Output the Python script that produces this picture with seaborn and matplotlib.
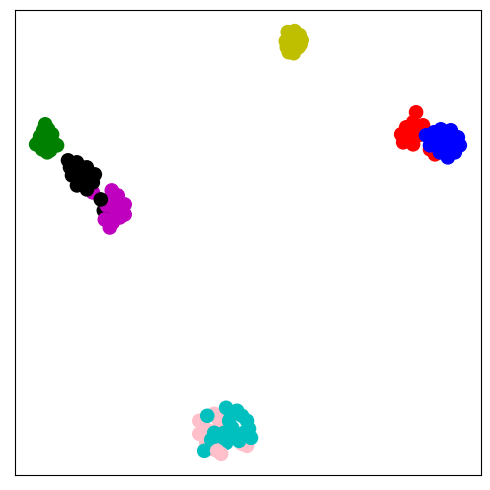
import numpy as np
import pandas as pd
import matplotlib
matplotlib.use("Agg")
import matplotlib.pyplot as plt
import seaborn as sns

# embedding coordinates per cluster
yellow_x = [289, 296, 301, 303, 299, 292, 287, 288, 294, 300, 295, 290, 302, 293, 296]
yellow_y = [30, 29, 33, 38, 40, 36, 39, 45, 46, 45, 51, 50, 42, 41, 36]

red_x = [418, 408, 403, 405, 415, 420, 425, 415, 437, 432, 410, 412]
red_y = [110, 125, 132, 140, 142, 133, 123, 120, 152, 147, 135, 128]

blue_x = [443, 453, 460, 462, 457, 450, 442, 432, 428, 438, 450, 447, 455, 445, 436]
blue_y = [127, 128, 135, 143, 150, 155, 150, 143, 133, 137, 140, 132, 145, 145, 130]

green_x = [45, 43, 48, 40, 47, 52, 38, 45, 53, 57, 42, 50, 47, 36, 44]
green_y = [122, 128, 127, 134, 134, 132, 140, 141, 140, 143, 147, 148, 150, 142, 137]

black_under_x = [104]
black_under_y = [208]

magenta_x = [93, 112, 118, 125, 125, 115, 107, 105, 113, 110, 120, 118, 112, 121]
magenta_y = [190, 188, 193, 202, 212, 207, 203, 217, 220, 225, 215, 200, 196, 208]

black_x = [68, 77, 87, 95, 72, 80, 77, 87, 93, 101, 83, 75, 90, 85, 70, 82, 80]
black_y = [158, 160, 165, 172, 173, 175, 183, 187, 180, 197, 170, 167, 176, 181, 165, 165, 180]

pink_x = [200, 215, 220, 200, 207, 217, 205, 248, 210, 243, 212, 225]
pink_y = [418, 411, 418, 431, 440, 443, 425, 443, 428, 441, 446, 413]

cyan_x = [208, 227, 238, 243, 250, 252, 240, 227, 220, 215, 233, 205, 230, 235, 245, 225, 232, 248, 212]
cyan_y = [413, 405, 408, 413, 426, 435, 438, 440, 433, 430, 425, 448, 418, 432, 430, 430, 412, 418, 437]

pink_top_x = [222, 218]
pink_top_y = [451, 448]

clusters = [
    ("y", yellow_x, yellow_y),
    ("g", green_x, green_y),
    ("k", black_under_x, black_under_y),
    ("m", magenta_x, magenta_y),
    ("k", black_x, black_y),
    ("r", red_x, red_y),
    ("b", blue_x, blue_y),
    ("pink", pink_x, pink_y),
    ("c", cyan_x, cyan_y),
    ("pink", pink_top_x, pink_top_y),
]

rows = []
for color, xs, ys in clusters:
    for x, y in zip(xs, ys):
        rows.append({"x": x, "y": 490 - y, "label": color})
df = pd.DataFrame(rows)

fig = plt.figure(figsize=(4.9, 4.9), dpi=100)
ax = fig.add_axes([15 / 490, 1 - 475 / 490, 466 / 490, 465 / 490])

sns.scatterplot(data=df, x="x", y="y", hue="label",
                palette={c: c for c, _, _ in clusters},
                s=90, linewidth=1, edgecolor="face", legend=False, ax=ax)

ax.set_xticks([])
ax.set_yticks([])
ax.set_xlabel("")
ax.set_ylabel("")

plt.savefig("out.png", dpi=100)
